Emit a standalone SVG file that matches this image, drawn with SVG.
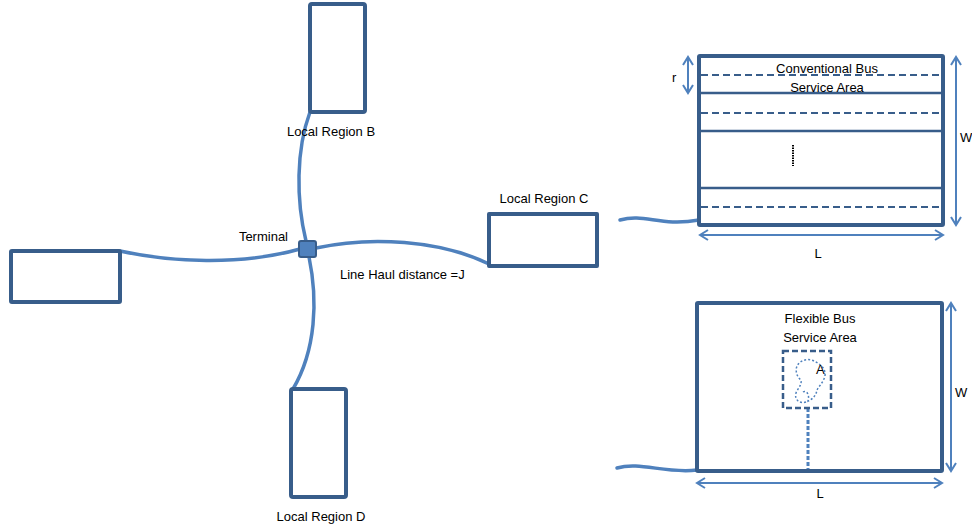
<svg xmlns="http://www.w3.org/2000/svg" width="972" height="529" viewBox="0 0 972 529">
<defs>
<style>
.box{fill:#fff;stroke:#385d8a;stroke-width:4;stroke-linejoin:round}
.road{fill:none;stroke:#4f81bd;stroke-width:3.5;stroke-linecap:round}
.dim{fill:none;stroke:#4f81bd;stroke-width:2}
.sol{stroke:#385d8a;stroke-width:2.5}
.dash{stroke:#385d8a;stroke-width:2;stroke-dasharray:7,4}
text{font-family:"Liberation Sans",Arial,sans-serif;font-size:13px;fill:#000}
.c{text-anchor:middle}
</style>
<marker id="ah" viewBox="0 0 12 12" refX="10" refY="6" markerWidth="12" markerHeight="12" markerUnits="userSpaceOnUse" orient="auto-start-reverse">
<path d="M2,1 L10,6 L2,11" fill="none" stroke="#4f81bd" stroke-width="2"/>
</marker>
</defs>
<g id="connectors">
<path class="road" d="M310,112 C296,150 296,200 306,241"/>
<path class="road" d="M309,257 C318,300 316,350 293,389"/>
<path class="road" d="M120,251 C170,262 240,266 300,249"/>
<path class="road" d="M316,248 C370,236 440,240 489,264"/>
<path class="road" d="M620,220 C645,213 660,227 699,220"/>
<path class="road" d="M617,468 C640,461 665,474 697,470"/>
</g>
<g id="region-b"><rect class="box" x="310" y="4" width="55" height="108" rx="2"/><text class="c" x="331" y="136">Local Region B</text></g>
<g id="region-a"><rect class="box" x="11" y="251" width="109" height="51" rx="1"/></g>
<g id="region-c"><rect class="box" x="489" y="214" width="108" height="52"/><text class="c" x="544" y="203">Local Region C</text></g>
<g id="region-d"><rect class="box" x="291" y="389" width="55" height="108" rx="2"/><text class="c" x="321" y="521">Local Region D</text></g>
<g id="terminal"><rect x="299" y="241" width="17" height="16" rx="2" fill="#4f81bd" stroke="#385d8a" stroke-width="2"/><text x="288" y="241" text-anchor="end">Terminal</text></g>
<text x="340" y="279">Line Haul distance =J</text>
<g id="conventional">
<rect class="box" x="699" y="56" width="244" height="169" rx="1"/>
<line class="dash" x1="701" y1="75" x2="941" y2="75"/>
<line class="sol" x1="701" y1="93" x2="941" y2="93"/>
<line class="dash" x1="701" y1="113" x2="941" y2="113"/>
<line class="sol" x1="701" y1="131" x2="941" y2="131"/>
<line class="sol" x1="701" y1="188" x2="941" y2="188"/>
<line class="dash" x1="701" y1="207" x2="941" y2="207"/>
<text class="c" x="827" y="73">Conventional Bus</text>
<text class="c" x="827" y="92">Service Area</text>
<line x1="793" y1="145" x2="793" y2="166" stroke="#000" stroke-width="2" stroke-dasharray="1.5,1"/>
<line class="dim" x1="688" y1="57" x2="688" y2="93" marker-start="url(#ah)" marker-end="url(#ah)"/>
<text x="672" y="82" font-size="11">r</text>
<line class="dim" x1="956" y1="57" x2="956" y2="225" marker-start="url(#ah)" marker-end="url(#ah)"/>
<text x="960" y="142">W</text>
<line class="dim" x1="700" y1="235" x2="943" y2="235" marker-start="url(#ah)" marker-end="url(#ah)"/>
<text class="c" x="818" y="258">L</text>
</g>
<g id="flexible">
<rect class="box" x="697" y="303" width="245" height="168" rx="1"/>
<path d="M808,408 L808,469" stroke="#4f81bd" stroke-width="3" stroke-dasharray="4,2" fill="none"/>
<text class="c" x="820" y="323">Flexible Bus</text>
<text class="c" x="820" y="342">Service Area</text>
<rect x="783" y="351" width="48" height="57" fill="none" stroke="#385d8a" stroke-width="2.5" stroke-dasharray="6,3"/>
<path d="M806,402 C800,404 794,400 796,393 C798,388 802,385 801,380 C797,377 795,371 797,366 C800,360 808,358 814,361 C820,364 826,368 825,376 C823,383 819,386 817,390 C816,396 812,400 806,402 Z M803,392 C806,390 810,394 808,401" fill="none" stroke="#4f81bd" stroke-width="1.5" stroke-dasharray="2,2"/>
<text x="816" y="374">A</text>
<line class="dim" x1="951" y1="303" x2="951" y2="471" marker-start="url(#ah)" marker-end="url(#ah)"/>
<text x="955" y="397">W</text>
<line class="dim" x1="697" y1="483" x2="942" y2="483" marker-start="url(#ah)" marker-end="url(#ah)"/>
<text class="c" x="820" y="498">L</text>
</g>
</svg>
